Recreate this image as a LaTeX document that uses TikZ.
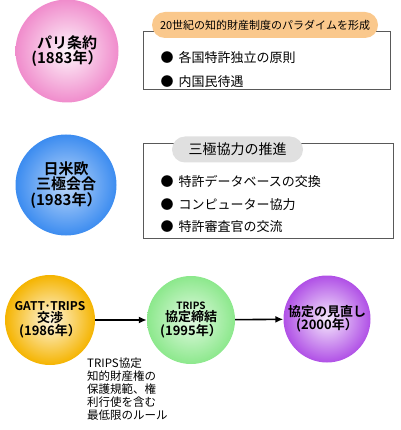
\documentclass[tikz,border=0pt]{standalone}
\usepackage{fontspec}
\setmainfont{Noto Sans CJK JP}[BoldFont={Noto Sans CJK JP Bold}]
\usetikzlibrary{arrows.meta, shapes.misc}
\definecolor{parispink}{HTML}{F08CCC}
\definecolor{trilatblue}{HTML}{3C8CF0}
\definecolor{gattyellow}{HTML}{F5B400}
\definecolor{tripsgreen}{HTML}{8CE88C}
\definecolor{reviewpurple}{HTML}{B050E6}
\definecolor{pillorange}{HTML}{FAC88C}
\definecolor{pillgray}{HTML}{E0E0E0}

\begin{document}
\begin{tikzpicture}[x=1pt, y=-1pt,
  ball/.style n args={3}{circle, inner sep=0pt, minimum size=#2, inner color=#1!#3, outer color=#1, align=center, font=\bfseries},
  panel/.style={draw=black!65, line width=1pt, fill=white, minimum width=#1},
  pill/.style={rounded rectangle, fill=#1, inner sep=0pt, minimum height=26pt},
  item/.style={anchor=west, font=\fontsize{13}{15}\selectfont},
  flow/.style={-{Latex[length=8pt,width=7pt]}, line width=1.6pt}
]
\useasboundingbox (0,0) rectangle (400,430);

% Paris convention
\node[ball={parispink}{103pt}{8}] (paris) at (67,51)
  {\fontsize{15}{19}\selectfont パリ条約\\\fontsize{15}{19}\selectfont (1883年）};
\node[panel=247pt, minimum height=58pt] (box1) at (266.5,61) {};
\node[pill=pillorange, minimum width=226pt, font=\fontsize{11}{12}\selectfont] (pill1) at (265,25)
  {20世紀の知的財産制度のパラダイムを形成};
\node[item] (b11) at (157,58) {●\hspace{5pt}各国特許独立の原則};
\node[item] (b12) at (157,82) {●\hspace{5pt}内国民待遇};

% Trilateral
\node[ball={trilatblue}{101pt}{35}] (trilat) at (66,185)
  {\fontsize{15}{20}\selectfont 日米欧\\\fontsize{15}{20}\selectfont 三極会合\\\fontsize{15}{20}\selectfont (1983年）};
\node[panel=250pt, minimum height=94pt] (box2) at (268,191) {};
\node[pill=pillgray, minimum width=131pt, font=\fontsize{14}{16}\selectfont] (pill2) at (237.5,149.5)
  {三極協力の推進};
\node[item] (b21) at (157,182) {●\hspace{5pt}特許データベースの交換};
\node[item] (b22) at (157,205) {●\hspace{5pt}コンピューター協力};
\node[item] (b23) at (157,227) {●\hspace{5pt}特許審査官の交流};

% GATT / TRIPS
\node[ball={gattyellow}{90pt}{12}] (gatt) at (50,320)
  {\fontsize{12}{15}\selectfont GATT·TRIPS\\\fontsize{13}{15}\selectfont 交渉\\\fontsize{13}{17}\selectfont (1986年）};
\node[ball={tripsgreen}{88pt}{25}] (trips) at (191,320)
  {\fontsize{10}{13}\selectfont TRIPS\\\fontsize{13}{15}\selectfont 協定締結\\\fontsize{13}{14}\selectfont (1995年）};
\node[ball={reviewpurple}{87pt}{12}] (review) at (327,319)
  {\fontsize{13}{15}\selectfont 協定の見直し\\\fontsize{13}{15}\selectfont (2000年）};

\draw[flow] (gatt) -- (trips);
\draw[flow] (trips) -- (review);

\node[anchor=north west, align=left, inner sep=0pt, font=\fontsize{11.5}{13}\selectfont] (rule) at (87,358)
  {TRIPS協定\\知的財産権の\\保護規範、権\\利行使を含む\\最低限のルール};
\end{tikzpicture}
\end{document}
